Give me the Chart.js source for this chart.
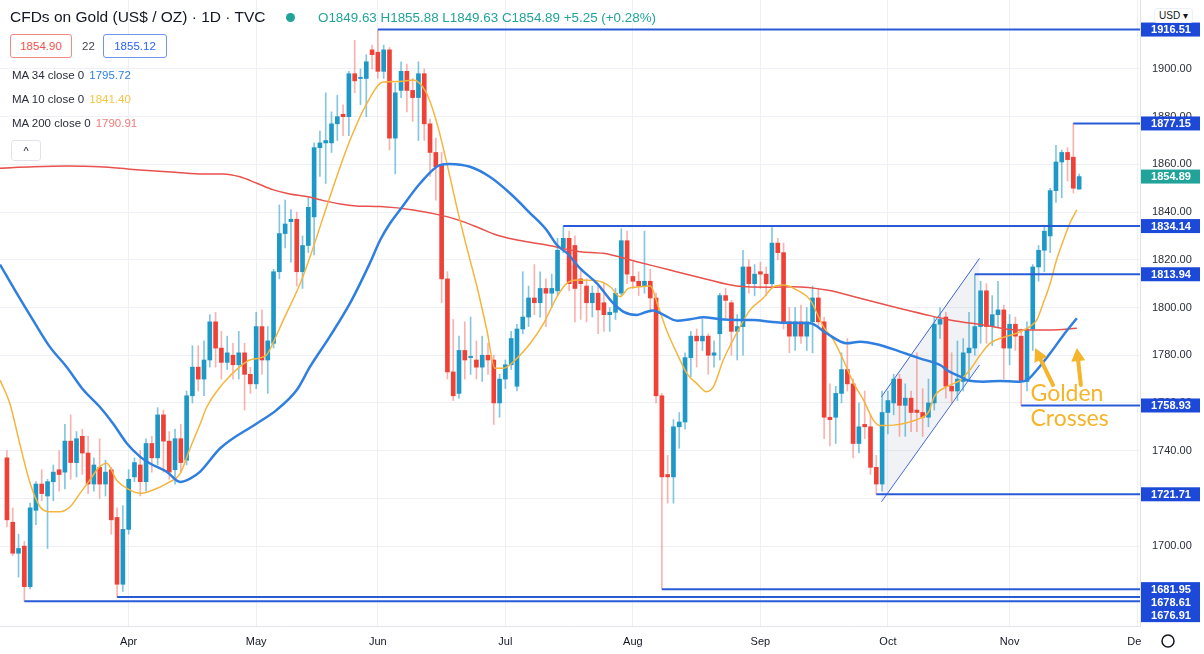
<!DOCTYPE html>
<html>
<head>
<meta charset="utf-8">
<script src="https://cdn.jsdelivr.net/npm/chart.js@4.4.1/dist/chart.umd.min.js"></script>
<style>
  body { margin: 0; background: #fff; font-family: "Liberation Sans", Arial, sans-serif; }
  #wrap { position: relative; width: 1204px; height: 654px; overflow: hidden; background: #fff; }
  #goldChart { position: absolute; left: 0; top: 0; }
  .hd { position: absolute; white-space: nowrap; color: #131722; }
  .box { position: absolute; height: 22px; line-height: 22px; border-radius: 3px; font-size: 11.5px; text-align: center; background: #fff; }
  .ma { position: absolute; left: 12px; font-size: 11.5px; color: #2a2e39; white-space: nowrap; }
  .ma span { margin-left: 5px; }
</style>
</head>
<body>
<div id="wrap">
  <canvas id="goldChart" width="1204" height="654"></canvas>
  <div class="hd" style="left:10px;top:8px;font-size:15.5px;">CFDs on Gold (US$ / OZ) · 1D · TVC</div>
  <div class="hd" style="left:286px;top:13px;width:9px;height:9px;border-radius:50%;background:#22a39a;"></div>
  <div class="hd" style="left:318px;top:10px;font-size:13.4px;color:#22a39a;">O1849.63 H1855.88 L1849.63 C1854.89 +5.25 (+0.28%)</div>
  <div class="box" style="left:10px;top:34px;width:60px;border:1px solid #f28a84;color:#ef5350;">1854.90</div>
  <div class="hd" style="left:82px;top:40px;font-size:11.5px;color:#434651;">22</div>
  <div class="box" style="left:103px;top:34px;width:62px;border:1px solid #6d95f0;color:#2962ff;">1855.12</div>
  <div class="ma" style="top:69px;">MA 34 close 0<span style="color:#2f7fe0;">1795.72</span></div>
  <div class="ma" style="top:93px;">MA 10 close 0<span style="color:#f3c744;">1841.40</span></div>
  <div class="ma" style="top:117px;">MA 200 close 0<span style="color:#f07c78;">1790.91</span></div>
  <div class="hd" style="left:11px;top:140px;width:28px;height:19px;border:1px solid #e0e3eb;border-radius:3px;background:#fff;font-size:11px;text-align:center;line-height:21px;">^</div>
  <div class="hd" style="left:1154px;top:8px;padding:1px 4px;font-size:10px;background:#fff;border:1px solid #eef0f5;border-radius:3px;">USD ▾</div>
</div>
<script>
// categories: trading days (weekdays) from 3 Mar 2021 to 1 Dec 2021
const dates = [];
for (let d = new Date(Date.UTC(2021, 2, 3)); d <= new Date(Date.UTC(2021, 11, 1)); d.setUTCDate(d.getUTCDate() + 1)) {
  const wd = d.getUTCDay();
  if (wd !== 0 && wd !== 6) dates.push(new Date(d));
}
const monthLabels = ["Apr", "May", "Jun", "Jul", "Aug", "Sep", "Oct", "Nov", "Dec"];
const yTicks = [1700, 1720, 1740, 1760, 1780, 1800, 1820, 1840, 1860, 1880, 1900];

// daily candles, one per trading day from 3 Mar 2021
const opens = [
  1737, 1710, 1697, 1700, 1683, 1715, 1726, 1721, 1727, 1732,
  1731, 1744, 1735, 1746, 1739, 1726, 1733, 1726, 1732, 1712,
  1684, 1707, 1729, 1734, 1727, 1743, 1737, 1755, 1744, 1732,
  1745, 1736, 1763, 1775, 1770, 1778, 1794, 1783, 1777, 1780,
  1776, 1781, 1772, 1768, 1792, 1778, 1785, 1815, 1831, 1836,
  1837, 1815, 1826, 1838, 1867, 1869, 1869, 1877, 1881, 1880,
  1898, 1896, 1896, 1908, 1907, 1899, 1908, 1871, 1891, 1899,
  1891, 1888, 1898, 1877, 1865, 1860, 1812, 1773, 1764, 1782,
  1779, 1778, 1775, 1780, 1778, 1760, 1770, 1776, 1767, 1791,
  1796, 1804, 1802, 1808, 1806, 1807, 1825, 1829, 1826, 1812,
  1809, 1802, 1806, 1802, 1797, 1798, 1806, 1828, 1813, 1811,
  1809, 1811, 1804, 1763, 1730, 1729, 1750, 1752, 1779, 1788,
  1786, 1788, 1780, 1789, 1805, 1802, 1790, 1792, 1817, 1810,
  1815, 1814, 1810, 1827, 1823, 1794, 1788, 1794, 1788, 1794,
  1804, 1794, 1754, 1754, 1764, 1774, 1768, 1743, 1751, 1750,
  1733, 1726, 1756, 1760, 1770, 1759, 1762, 1757, 1756, 1754,
  1760, 1793, 1796, 1767, 1765, 1769, 1781, 1783, 1792, 1807,
  1792, 1797, 1799, 1783, 1793, 1788, 1769, 1791, 1817, 1824,
  1830, 1849, 1861, 1865, 1863, 1849.63
];
const highs = [
  1740, 1716, 1705, 1702, 1718, 1727, 1732, 1728, 1734, 1740,
  1751, 1755, 1748, 1749, 1746, 1737, 1745, 1736, 1733, 1716,
  1717, 1732, 1737, 1740, 1745, 1746, 1758, 1757, 1748, 1749,
  1751, 1765, 1784, 1784, 1786, 1797, 1798, 1790, 1788, 1785,
  1790, 1785, 1775, 1798, 1799, 1792, 1816, 1843, 1845, 1841,
  1840, 1830, 1846, 1869, 1874, 1890, 1882, 1889, 1885, 1899,
  1912, 1900, 1906, 1910, 1916.51, 1910, 1909, 1894, 1903, 1902,
  1896, 1903, 1900, 1879, 1871, 1865, 1815, 1795, 1788, 1794,
  1796, 1786, 1788, 1785, 1780, 1772, 1778, 1790, 1793, 1815,
  1809, 1818, 1815, 1812, 1814, 1829, 1834.14, 1832, 1830, 1816,
  1812, 1809, 1810, 1810, 1800, 1808, 1833, 1832, 1819, 1815,
  1832, 1816, 1806, 1764, 1738, 1753, 1756, 1781, 1790, 1791,
  1795, 1789, 1786, 1806, 1808, 1803, 1797, 1824, 1820, 1818,
  1819, 1817, 1833.5, 1829, 1827, 1800, 1800, 1801, 1800, 1809,
  1808, 1796, 1768, 1767, 1781, 1787, 1770, 1760, 1765, 1755,
  1738, 1765, 1765, 1772, 1772, 1768, 1765, 1781, 1766, 1770,
  1796, 1800, 1798, 1781, 1786, 1787, 1798, 1813.94, 1811, 1810,
  1805, 1811, 1801, 1797, 1796, 1791, 1794, 1818, 1826, 1834,
  1850, 1868, 1866, 1867, 1877.15, 1855.88
];
const lows = [
  1708, 1696, 1687, 1676.91, 1682, 1709, 1719, 1699, 1719, 1723,
  1724, 1728, 1729, 1730, 1722, 1723, 1720, 1721, 1705, 1678.61,
  1681, 1705, 1727, 1721, 1723, 1731, 1734, 1731, 1728, 1726,
  1731, 1734, 1760, 1765, 1763, 1775, 1775, 1770, 1774, 1770,
  1770, 1757, 1764, 1766, 1772, 1764, 1783, 1812, 1825, 1819,
  1809, 1808, 1823, 1822, 1855, 1852, 1865, 1870, 1872, 1872,
  1890, 1885, 1880, 1900, 1896, 1896, 1866, 1856, 1888, 1882,
  1878, 1870, 1870, 1855, 1845, 1802, 1770, 1761, 1762, 1770,
  1772, 1770, 1769, 1772, 1751, 1754, 1766, 1774, 1765, 1789,
  1792, 1797, 1796, 1792, 1800, 1805, 1823, 1807, 1794, 1795,
  1794, 1796, 1789, 1790, 1790, 1795, 1805, 1810, 1808, 1805,
  1806, 1798, 1760, 1681.95, 1718, 1718, 1741, 1749, 1771, 1775,
  1782, 1772, 1775, 1778, 1795, 1780, 1778, 1780, 1806, 1805,
  1808, 1805, 1808, 1820, 1791, 1781, 1782, 1785, 1782, 1781,
  1792, 1745, 1742, 1743, 1760, 1765, 1737, 1739, 1745, 1730,
  1721.71, 1723, 1747, 1755, 1746, 1746, 1748, 1748, 1746, 1750,
  1757, 1787, 1762, 1760, 1761, 1765, 1770, 1780, 1785, 1785,
  1784, 1792, 1770, 1776, 1782, 1758.93, 1765, 1782, 1811, 1815,
  1823, 1844, 1846, 1853, 1848, 1849.63
];
const closes = [
  1711, 1697, 1699, 1683, 1716, 1726, 1722, 1727, 1731, 1730,
  1744, 1735, 1745, 1739, 1726, 1734, 1726, 1731, 1711, 1684,
  1707, 1728, 1735, 1727, 1743, 1737, 1755, 1744, 1731, 1745,
  1735, 1763, 1775, 1770, 1778, 1794, 1783, 1777, 1781, 1776,
  1781, 1772, 1768, 1792, 1778, 1786, 1815, 1831, 1835, 1837,
  1815, 1826, 1842, 1867, 1869, 1870, 1877, 1880, 1880, 1898,
  1895, 1896.5, 1903, 1906, 1899, 1908, 1871, 1890, 1899, 1891,
  1888, 1898, 1877, 1865, 1859, 1812, 1773, 1763, 1782, 1778,
  1779.5, 1775, 1780, 1778, 1760, 1770, 1776, 1787, 1791, 1796,
  1804, 1802, 1808, 1806, 1808, 1824, 1829, 1810, 1808, 1810,
  1802, 1806, 1799, 1797, 1798, 1806, 1828, 1814, 1811, 1809,
  1811, 1804, 1763, 1729, 1729, 1750, 1752, 1779, 1788, 1786,
  1788, 1780, 1781, 1805, 1803, 1790, 1792, 1817, 1810, 1814,
  1814, 1810, 1827, 1823, 1794, 1788, 1794, 1788, 1794, 1804,
  1794, 1754, 1753, 1764, 1774, 1768, 1743, 1750, 1750, 1733,
  1726, 1756, 1761, 1770, 1759, 1762, 1756, 1756, 1754, 1760,
  1793, 1795, 1767, 1765, 1770, 1781, 1783, 1792, 1807, 1792,
  1797, 1799, 1783, 1793, 1788, 1769, 1791, 1817, 1824, 1832,
  1849, 1861, 1865, 1862, 1850, 1854.89
];

// moving averages: [day index, price]
const ma34 = [
  [-1.2, 1818], [1.7, 1805.9], [4.5, 1794.7], [7.4, 1783.5], [10.3, 1775.1], [13.2, 1765.4],
  [16, 1758.4], [18.3, 1751.4], [20.7, 1743], [23, 1737.4], [24.7, 1734.6], [27.6, 1731.1],
  [29.9, 1726.9], [31.6, 1728.3], [33.3, 1731.1], [36.8, 1741], [43.1, 1751.4], [46.5, 1757],
  [50, 1765.4], [52.3, 1775.2], [55.7, 1787.8], [59.2, 1801.8], [62.6, 1818.5], [64.4, 1828.3],
  [66.1, 1835.3], [67.8, 1840.9], [71.3, 1852.1], [74.7, 1859.7], [76.4, 1860.2], [79.9, 1859],
  [83.3, 1854.8], [86.8, 1847.9], [90.3, 1839.5], [93.1, 1832.5], [94.9, 1826.2], [96.6, 1822.9],
  [98.9, 1816.4], [101.8, 1810.1], [104.6, 1801.8], [106.4, 1798.2], [108.7, 1796.9], [110.4, 1798.2],
  [111.5, 1798.7], [113.3, 1796.9], [115.6, 1794.5], [117.9, 1795.1], [120.2, 1795.9], [123, 1795.1],
  [125.9, 1794.8], [128.8, 1794.8], [131.7, 1794], [134, 1793.6], [138.6, 1793.4], [141.4, 1789.2],
  [144.9, 1785], [147.2, 1785.7], [150.6, 1784.3], [154.1, 1781.5], [157.5, 1778.7], [161, 1775.9],
  [162.7, 1773], [164.5, 1771], [165.6, 1769.6], [168.5, 1768.9], [171.4, 1769.2], [174.2, 1768.9],
  [176, 1769.6], [177.7, 1773.8], [180, 1780.8], [182.3, 1788.5], [184.6, 1795.5]
];
const ma10 = [
  [-1.2, 1769.6], [0.5, 1759.8], [2.2, 1743], [4, 1726.3], [5.7, 1716.5], [7.4, 1714.4],
  [9.1, 1714.4], [10.9, 1716.5], [12.6, 1722.1], [14.3, 1727.7], [16, 1733.3], [17.2, 1734.7],
  [18.9, 1727.7], [20.7, 1724.2], [23, 1722.1], [25.2, 1723.5], [27.6, 1726.3], [29.9, 1730.5],
  [31.6, 1741], [33.3, 1751], [34.5, 1758.4], [37.3, 1768.2], [40.2, 1775.2], [41.9, 1778],
  [44.8, 1780.1], [46, 1785.7], [47.7, 1794.8], [50.6, 1810.1], [52.3, 1821.3], [54.6, 1838.1],
  [56.9, 1854.8], [59.2, 1870.2], [62.1, 1885.6], [64.9, 1894.5], [67.8, 1894.7], [70.1, 1895.4],
  [72.4, 1889.8], [74.2, 1877.2], [75.9, 1860.5], [77.6, 1842.3], [79.3, 1825.5], [81.1, 1808.7],
  [82.8, 1790.6], [84.2, 1774.5], [85.6, 1774.5], [88, 1778.7], [90.3, 1785], [92.6, 1793.4],
  [94.9, 1804.5], [96.6, 1810.1], [98.3, 1811.5], [101.8, 1811.2], [104.1, 1808.7], [105.8, 1804.5],
  [107.2, 1808], [109.2, 1808.7], [111, 1809], [112.4, 1800.3], [113.8, 1790.6], [115.6, 1780.8],
  [117.3, 1772.4], [119, 1768.2], [120.7, 1764.7], [121.9, 1766.8], [123.6, 1778], [125.9, 1789.2],
  [128.2, 1798.9], [130.5, 1804], [132.3, 1808.7], [134, 1809.4], [136.3, 1807.3], [138.6, 1803.1],
  [140.9, 1791.9], [142.6, 1786.4], [144.3, 1778], [146.1, 1768.2], [147.8, 1761.2], [149.5, 1752.8],
  [150.6, 1750.5], [152.9, 1750.7], [155.3, 1751.7], [157.5, 1753.5], [159, 1756], [160, 1762.6],
  [162.2, 1766.8], [164.5, 1769.6], [166.2, 1774], [167.9, 1780], [169.6, 1785], [171.9, 1787.5],
  [174.2, 1789.2], [176.5, 1792], [177.7, 1794.8], [178.8, 1801.8], [180, 1810.1], [181.1, 1819.9],
  [182.3, 1828.3], [183.4, 1835.3], [184.6, 1840.9]
];
const ma200 = [
  [-1.2, 1858.4], [4.5, 1859], [10.3, 1859.3], [16, 1859], [21.7, 1857.9], [27.6, 1856.9],
  [33.3, 1856], [37.3, 1856], [40.2, 1854.8], [43.1, 1852.1], [46, 1849.3], [48.8, 1847.6],
  [51.7, 1846.5], [54.6, 1844.8], [57.5, 1843.4], [60.3, 1842.6], [64.4, 1842.3], [70.1, 1840.9],
  [75.9, 1838.1], [78.7, 1836], [81.6, 1833.2], [84.5, 1830.4], [87.4, 1828.6], [93.1, 1826.2],
  [98.9, 1823.4], [102.9, 1822.7], [108.7, 1819.2], [114.4, 1815.7], [120.2, 1812.2], [125.9, 1809],
  [131.7, 1808.5], [135.7, 1808.7], [141.4, 1807.3], [147.2, 1803.9], [152.9, 1800.3], [158.7, 1796.9],
  [162.7, 1794.8], [168.5, 1792.7], [174.2, 1790.6], [180, 1790.6], [184.6, 1791.3]
];

// horizontal levels: price and the day index where each starts
const levelPrices = [1916.51, 1877.15, 1834.14, 1813.94, 1758.93, 1721.71, 1681.95, 1678.61, 1676.91];
const levelStarts = [64, 184, 96, 167, 175, 150, 113, 19, 3];
const lastPrice = 1854.89;

// rising channel drawn in October: [day index, price]
const channelUpper = [[150.9, 1762.6], [167.8, 1820.6]];
const channelLower = [[150.9, 1718.6], [167.8, 1775.9]];

const X_MIN = -1.2, X_MAX = 195.5;
const UP = "#1e98c7", DOWN = "#ef4136";
const LEVEL = "#2a5bd7";
const GRID = "#eef0f5";

const monthStarts = [];
for (let i = 1; i < dates.length; i++) {
  if (dates[i].getUTCMonth() !== dates[i - 1].getUTCMonth()) monthStarts.push(i);
}

const isUp = (i) => closes[i] >= opens[i];
const pairs = (arr) => arr.map(([x, y]) => ({ x, y }));

const datasets = [];
levelPrices.forEach((p, k) => {
  datasets.push({
    type: "line",
    data: [{ x: levelStarts[k], y: p }, { x: X_MAX, y: p }],
    borderColor: LEVEL,
    borderWidth: 2,
    pointRadius: 0,
    order: 1,
  });
});
datasets.push(
  { type: "line", label: "MA 34", data: pairs(ma34), borderColor: "#2f7fe0", borderWidth: 2.5,
    pointRadius: 0, cubicInterpolationMode: "monotone", order: 2 },
  { type: "line", label: "MA 10", data: pairs(ma10), borderColor: "#f5b53d", borderWidth: 1.5,
    pointRadius: 0, cubicInterpolationMode: "monotone", order: 3 },
  { type: "line", label: "MA 200", data: pairs(ma200), borderColor: "#e8514c", borderWidth: 1.5,
    pointRadius: 0, cubicInterpolationMode: "monotone", order: 4 },
  { type: "line", data: pairs(channelUpper), borderColor: "#3d62d6", borderWidth: 1,
    pointRadius: 0, fill: "+1", backgroundColor: "rgba(170,176,195,0.16)", order: 8 },
  { type: "line", data: pairs(channelLower), borderColor: "#3d62d6", borderWidth: 1,
    pointRadius: 0, fill: false, order: 8 },
  {
    label: "body",
    data: opens.map((o, i) => ({ x: i, y: [o, closes[i]] })),
    backgroundColor: (c) => (isUp(c.dataIndex) ? UP : DOWN),
    barThickness: 4,
    minBarLength: 1,
    grouped: false,
    order: 6,
  },
  {
    label: "wick",
    data: lows.map((l, i) => ({ x: i, y: [l, highs[i]] })),
    backgroundColor: (c) => (isUp(c.dataIndex) ? "rgba(30,152,199,0.55)" : "rgba(239,65,54,0.4)"),
    barThickness: 1,
    grouped: false,
    order: 7,
  }
);

const overlay = {
  id: "overlay",
  afterDatasetsDraw(chart) {
    const { ctx } = chart;
    const xs = chart.scales.x, ys = chart.scales.y;
    const px = (i) => xs.getPixelForValue(i), py = (p) => ys.getPixelForValue(p);
    const gold = "#f6b42a";
    ctx.save();
    // arrows
    const arrows = [[[180.5, 1767.5], [177.4, 1783]], [[185.3, 1767.5], [184.6, 1783]]];
    arrows.forEach(([from, to]) => {
      const x1 = px(from[0]), y1 = py(from[1]), x2 = px(to[0]), y2 = py(to[1]);
      const a = Math.atan2(y2 - y1, x2 - x1);
      ctx.strokeStyle = gold; ctx.fillStyle = gold; ctx.lineWidth = 4; ctx.lineCap = "round";
      ctx.beginPath();
      ctx.moveTo(x1, y1);
      ctx.lineTo(x2 - 8 * Math.cos(a), y2 - 8 * Math.sin(a));
      ctx.stroke();
      ctx.beginPath();
      ctx.moveTo(x2, y2);
      ctx.lineTo(x2 - 13 * Math.cos(a) + 7 * Math.sin(a), y2 - 13 * Math.sin(a) - 7 * Math.cos(a));
      ctx.lineTo(x2 - 13 * Math.cos(a) - 7 * Math.sin(a), y2 - 13 * Math.sin(a) + 7 * Math.cos(a));
      ctx.closePath();
      ctx.fill();
    });
    ctx.font = "23px Lato, 'Open Sans', sans-serif";
    ctx.textBaseline = "middle";
    ctx.fillStyle = gold;
    ctx.fillText("Golden", px(176.6), py(1764));
    ctx.fillText("Crosses", px(176.6), py(1753.6));
    ctx.restore();
  },
  afterDraw(chart) {
    const { ctx, chartArea } = chart;
    const ys = chart.scales.y;
    ctx.save();
    // price tags on the right axis, stacked so they do not overlap
    const tags = levelPrices.map((p) => ({ p, y: ys.getPixelForValue(p), c: "#1c49d8" }));
    tags.push({ p: lastPrice, y: ys.getPixelForValue(lastPrice), c: "#22a39a" });
    tags.sort((a, b) => a.y - b.y);
    for (let k = 1; k < tags.length; k++) {
      if (tags[k].y - tags[k - 1].y < 13) tags[k].y = tags[k - 1].y + 13;
    }
    ctx.beginPath();
    ctx.rect(chartArea.right, 0, 64, chartArea.bottom);
    ctx.clip();
    ctx.font = "bold 11px 'Liberation Sans', Arial, sans-serif";
    ctx.textAlign = "center";
    ctx.textBaseline = "middle";
    tags.forEach((t) => {
      ctx.fillStyle = t.c;
      ctx.fillRect(chartArea.right + 1, t.y - 7, 59, 14);
      ctx.fillStyle = "#fff";
      ctx.fillText(t.p.toFixed(2), chartArea.right + 31, t.y + 0.5);
    });
    ctx.restore();
    // corner of the time axis
    ctx.save();
    ctx.fillStyle = "#fff";
    ctx.fillRect(chartArea.right + 1, chartArea.bottom + 1, 64, 30);
    ctx.strokeStyle = "#131722";
    ctx.lineWidth = 1.5;
    ctx.beginPath();
    ctx.arc(chartArea.right + 28, chartArea.bottom + 15, 6, 0, Math.PI * 2);
    ctx.stroke();
    ctx.restore();
  },
};

new Chart(document.getElementById("goldChart").getContext("2d"), {
  type: "bar",
  data: { datasets },
  plugins: [overlay],
  options: {
    responsive: false,
    animation: false,
    devicePixelRatio: 1,
    layout: { padding: 0 },
    plugins: { legend: { display: false }, tooltip: { enabled: false } },
    scales: {
      x: {
        type: "linear",
        min: X_MIN,
        max: X_MAX,
        offset: false,
        afterBuildTicks: (s) => { s.ticks = monthStarts.map((v) => ({ value: v })); },
        afterFit: (s) => { s.height = 28; s.paddingLeft = 0; s.paddingRight = 0; },
        ticks: {
          autoSkip: false, maxRotation: 0, padding: 9, color: "#131722",
          font: { size: 11, family: "'Liberation Sans', Arial, sans-serif" },
          callback: (v, i) => monthLabels[i],
        },
        grid: { color: GRID, drawTicks: false, offset: false },
        border: { color: "#e0e3eb" },
      },
      y: {
        position: "right",
        min: 1666.5,
        max: 1928.9,
        afterBuildTicks: (s) => { s.ticks = yTicks.map((v) => ({ value: v })); },
        afterFit: (s) => { s.width = 64; s.paddingTop = 0; s.paddingBottom = 0; },
        ticks: {
          padding: 12, color: "#2a2e39",
          font: { size: 11, family: "'Liberation Sans', Arial, sans-serif" },
          callback: (v) => Number(v).toFixed(2),
        },
        grid: { color: GRID, drawTicks: false },
        border: { color: "#e0e3eb" },
      },
    },
  },
});
</script>
</body>
</html>
